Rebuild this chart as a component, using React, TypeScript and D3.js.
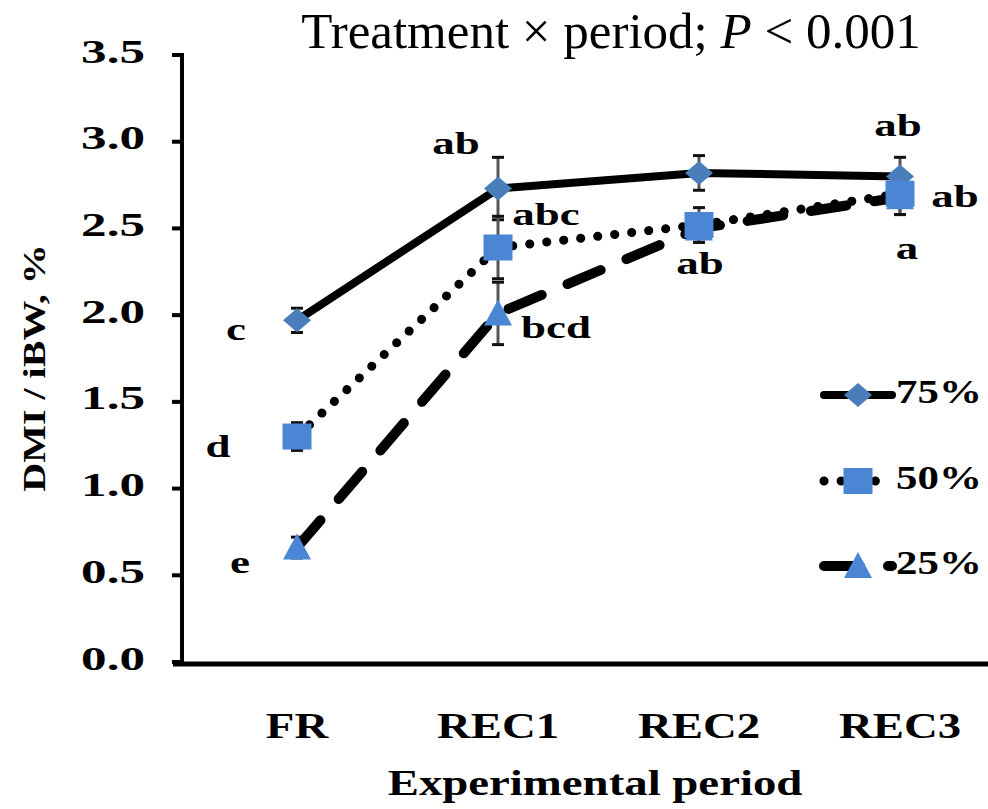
import React, { useEffect, useRef } from 'react';
import * as d3 from 'd3';

// experimental periods (x categories)
const periods = ['FR', 'REC1', 'REC2', 'REC3'];
const seriesNames = ['75%', '50%', '25%'];

// DMI / iBW means, %
const mean75 = [1.97, 2.73, 2.82, 2.80];
const mean50 = [1.30, 2.39, 2.52, 2.70];
const mean25 = [0.66, 2.01, 2.50, 2.68];

// standard errors
const se75 = [0.07, 0.18, 0.10, 0.11];
const se50 = [0.08, 0.18, 0.10, 0.12];
const se25 = [0.06, 0.18, 0.08, 0.10];

// significance letters
const letters75 = ['c', 'ab', '', 'ab'];
const letters50 = ['d', 'abc', 'ab', 'ab'];
const letters25 = ['e', 'bcd', '', 'a'];

const yTicks = [0, 0.5, 1, 1.5, 2, 2.5, 3, 3.5];

const FONT = "'Liberation Serif', 'Times New Roman', serif";

export default function App() {
  const ref = useRef<SVGSVGElement>(null);

  useEffect(() => {
    const svg = d3.select(ref.current);
    svg.selectAll('*').remove();

    const left = 182, top = 55, bottom = 662;
    const x = d3.scalePoint<string>().domain(periods).range([297, 900]);
    const y = d3.scaleLinear().domain([0, 3.5]).range([bottom, top]);

    // where each letter sits relative to its point
    const letterOffsets = [
      [[-61, 13], [-42, -42], [0, 0], [-2, -48]],
      [[-79, 13], [48, -30], [1, 42], [55, 6]],
      [[-57, 18], [58, 17], [0, 0], [7, 55]],
    ];

    const series = [
      { name: seriesNames[0], mean: mean75, se: se75, letters: letters75, shape: 'diamond', color: '#4A7EBB', dash: null, width: 8 },
      { name: seriesNames[1], mean: mean50, se: se50, letters: letters50, shape: 'square', color: '#4A86D4', dash: '0.1,17', width: 9 },
      { name: seriesNames[2], mean: mean25, se: se25, letters: letters25, shape: 'triangle', color: '#4A86D4', dash: '36,28', width: 10 },
    ];

    // stretched bold text, like the original
    const stretched = (g: any, tx: number, ty: number, str: string, size: number, sx: number, anchor: string) =>
      g.append('text')
        .attr('transform', `translate(${tx},${ty}) scale(${sx},1)`)
        .attr('text-anchor', anchor)
        .attr('dominant-baseline', 'middle')
        .attr('font-family', FONT)
        .attr('font-weight', 'bold')
        .attr('font-size', size)
        .attr('fill', '#000')
        .text(str);

    const marker = (g: any, shape: string, cx: number, cy: number, color: string) => {
      if (shape === 'diamond') {
        g.append('path').attr('d', `M${cx},${cy - 12}L${cx + 14},${cy}L${cx},${cy + 12}L${cx - 14},${cy}Z`).attr('fill', color);
      } else if (shape === 'square') {
        g.append('rect').attr('x', cx - 14.5).attr('y', cy - 13).attr('width', 29).attr('height', 26).attr('fill', color);
      } else {
        g.append('path').attr('d', `M${cx},${cy - 14}L${cx + 14},${cy + 12}L${cx - 14},${cy + 12}Z`).attr('fill', color);
      }
    };

    // title
    const title = svg.append('text')
      .attr('x', 611).attr('y', 48)
      .attr('text-anchor', 'middle')
      .attr('font-family', FONT)
      .attr('font-size', 51)
      .attr('fill', '#000');
    title.append('tspan').text('Treatment \u00D7 period; ');
    title.append('tspan').attr('font-style', 'italic').text('P');
    title.append('tspan').text(' < 0.001');

    // axes
    svg.append('line').attr('x1', left).attr('x2', left).attr('y1', top - 2).attr('y2', bottom + 2)
      .attr('stroke', '#000').attr('stroke-width', 4);
    svg.append('line').attr('x1', 173).attr('x2', 988).attr('y1', bottom + 2).attr('y2', bottom + 2)
      .attr('stroke', '#000').attr('stroke-width', 5);
    yTicks.forEach(t => {
      svg.append('line').attr('x1', left - 10).attr('x2', left).attr('y1', y(t)).attr('y2', y(t))
        .attr('stroke', '#000').attr('stroke-width', 4);
      stretched(svg, 145, y(t), d3.format('.1f')(t), 33, 1.55, 'end');
    });
    periods.forEach(p => stretched(svg, x(p)!, 730, p, 36, 1.3, 'middle'));

    stretched(svg, 595, 787, 'Experimental period', 36, 1.3, 'middle');
    svg.append('text')
      .attr('transform', 'translate(38,368) rotate(-90) scale(1.25,1)')
      .attr('text-anchor', 'middle')
      .attr('dominant-baseline', 'middle')
      .attr('font-family', FONT)
      .attr('font-weight', 'bold')
      .attr('font-size', 32)
      .text('DMI / iBW, %');

    // lines
    const line = d3.line<number>().x((d, i) => x(periods[i])!).y(d => y(d));
    series.forEach(s => {
      svg.append('path').attr('d', line(s.mean))
        .attr('fill', 'none').attr('stroke', '#000')
        .attr('stroke-width', s.width)
        .attr('stroke-linecap', 'round')
        .attr('stroke-dasharray', s.dash);
    });

    // error bars
    series.forEach(s => {
      s.mean.forEach((m, i) => {
        const cx = x(periods[i])!;
        svg.append('line').attr('x1', cx).attr('x2', cx).attr('y1', y(m - s.se[i])).attr('y2', y(m + s.se[i]))
          .attr('stroke', '#555').attr('stroke-width', 3);
        [m - s.se[i], m + s.se[i]].forEach(v => {
          svg.append('line').attr('x1', cx - 6).attr('x2', cx + 6).attr('y1', y(v)).attr('y2', y(v))
            .attr('stroke', '#111').attr('stroke-width', 3);
        });
      });
    });

    // markers
    series.forEach(s => {
      s.mean.forEach((m, i) => marker(svg, s.shape, x(periods[i])!, y(m), s.color));
    });

    // letters
    series.forEach((s, si) => {
      s.letters.forEach((l, i) => {
        if (!l) return;
        const [dx, dy] = letterOffsets[si][i];
        stretched(svg, x(periods[i])! + dx, y(s.mean[i]) + dy, l, 31, 1.45, 'middle');
      });
    });

    // legend
    const legendY = [395, 481, 566];
    series.forEach((s, i) => {
      const ly = legendY[i];
      svg.append('line').attr('x1', 824).attr('x2', 892).attr('y1', ly).attr('y2', ly)
        .attr('stroke', '#000').attr('stroke-width', s.width)
        .attr('stroke-linecap', 'round')
        .attr('stroke-dasharray', s.dash);
      marker(svg, s.shape, 858, ly, s.color);
      stretched(svg, 896, ly, s.name, 33, 1.3, 'start');
    });
  }, []);

  return (
    <svg ref={ref} width={988} height={809}
      style={{ position: 'absolute', left: 0, top: 0, background: '#fff' }} />
  );
}
